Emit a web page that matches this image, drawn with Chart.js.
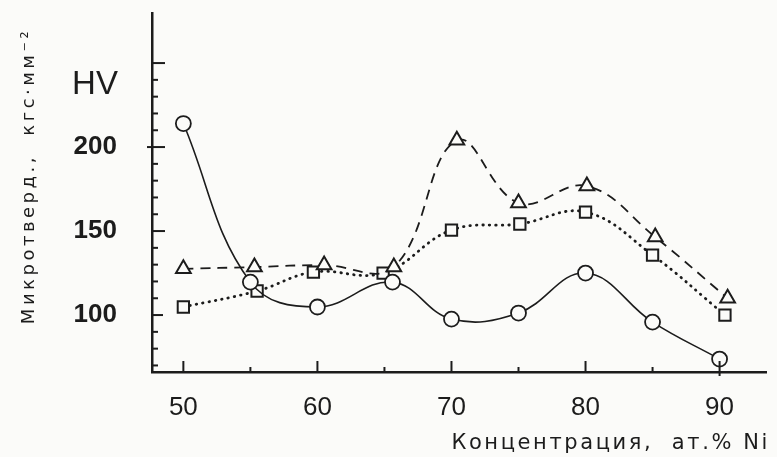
<!DOCTYPE html>
<html>
<head>
<meta charset="utf-8">
<script src="https://cdn.jsdelivr.net/npm/chart.js@4.4.0/dist/chart.umd.min.js"></script>
<style>
  html, body { margin: 0; padding: 0; background: #fbfbf9; }
  #wrap { width: 777px; height: 457px; }
</style>
</head>
<body>
<div id="wrap"><canvas id="c" width="777" height="457"></canvas></div>
<script>
// concentration, at.% Ni, and HV values
const circleX = [50, 55, 60, 65.6, 70, 75, 80, 85, 90];
const circleHV = [214, 119.6, 104.8, 119.6, 97.6, 101.2, 125, 95.8, 73.8];

const triangleX = [50, 55.3, 60.5, 65.7, 70.4, 75, 80.1, 85.2, 90.6];
const triangleHV = [127.5, 128.6, 129.8, 128.6, 204, 166.7, 176.8, 146.4, 110];

const squareX = [50, 55.5, 59.7, 64.9, 70, 75.1, 80, 85, 90.4];
const squareHV = [104.8, 114.3, 125.6, 125, 150.6, 154.2, 161.3, 135.7, 100];

const xTicks = [50, 60, 70, 80, 90];
const yTicks = [100, 150, 200];

const ink = "#1c1c1c";

function pts(xs, ys) {
  return xs.map((x, i) => ({ x, y: ys[i] }));
}

// tick marks drawn inward, like the original plot
const innerTicks = {
  id: "innerTicks",
  afterDraw(chart) {
    const { ctx, scales: { x, y }, chartArea } = chart;
    ctx.save();
    ctx.strokeStyle = ink;
    ctx.lineWidth = 2;
    const left = chartArea.left, bottom = chartArea.bottom;
    for (let v = 70; v <= 250; v += 10) {
      const py = y.getPixelForValue(v);
      let a = 0, b = 6;
      if (v === 250 || v === 150) b = 13;
      if (v === 200) { a = -5; b = 13; }
      if (v === 100) b = 11;
      ctx.beginPath();
      ctx.moveTo(left + a, py);
      ctx.lineTo(left + b, py);
      ctx.stroke();
    }
    for (let v = 50; v <= 90; v += 5) {
      const px = x.getPixelForValue(v);
      const len = v % 10 === 0 ? 11 : 5;
      ctx.beginPath();
      ctx.moveTo(px, bottom + (v === 90 ? 4 : 0));
      ctx.lineTo(px, bottom - len);
      ctx.stroke();
    }
    ctx.restore();
  }
};

const labels = {
  id: "labels",
  afterDraw(chart) {
    const ctx = chart.ctx;
    ctx.save();
    ctx.fillStyle = ink;
    ctx.font = "33px 'Liberation Sans'";
    ctx.textAlign = "center";
    ctx.textBaseline = "middle";
    ctx.fillText("HV", 95, 85);

    ctx.font = "21px 'DejaVu Sans'";
    ctx.letterSpacing = "2.6px";
    ctx.textAlign = "right";
    ctx.textBaseline = "alphabetic";
    ctx.fillText("Концентрация,  ат.% Ni", 770, 449);

    ctx.translate(34, 176);
    ctx.rotate(-Math.PI / 2);
    ctx.font = "18px 'DejaVu Sans'";
    ctx.letterSpacing = "3.5px";
    ctx.textAlign = "center";
    ctx.fillText("Микротверд.,  кгс·мм⁻²", 0, 0);
    ctx.restore();
  }
};

new Chart(document.getElementById("c"), {
  type: "line",
  data: {
    datasets: [
      {
        data: pts(circleX, circleHV),
        borderColor: ink,
        borderWidth: 1.6,
        tension: 0.4,
        pointStyle: "circle",
        pointRadius: 7.5,
        pointBorderWidth: 1.8,
        pointBackgroundColor: "#fbfbf9",
        pointBorderColor: ink
      },
      {
        data: pts(triangleX, triangleHV),
        borderColor: ink,
        borderWidth: 1.8,
        borderDash: [10, 7],
        tension: 0.4,
        pointStyle: "triangle",
        pointRadius: 8.5,
        pointBorderWidth: 2,
        pointBackgroundColor: "#fbfbf9",
        pointBorderColor: ink
      },
      {
        data: pts(squareX, squareHV),
        borderColor: ink,
        borderWidth: 2.8,
        borderDash: [0.5, 6],
        borderCapStyle: "round",
        tension: 0.4,
        pointStyle: "rect",
        pointRadius: 8,
        pointBorderWidth: 2,
        pointBackgroundColor: "#fbfbf9",
        pointBorderColor: ink
      }
    ]
  },
  options: {
    responsive: false,
    animation: false,
    layout: { padding: { top: 13, right: 0, left: 0, bottom: 0 } },
    plugins: { legend: { display: false }, tooltip: { enabled: false } },
    scales: {
      x: {
        type: "linear",
        min: 47.66,
        max: 93.5,
        afterFit(s) { s.height = 85; s.paddingLeft = 0; s.paddingRight = 0; },
        afterBuildTicks(s) { s.ticks = xTicks.map(v => ({ value: v })); },
        grid: { display: false, drawTicks: false },
        border: { display: true, color: ink, width: 2.5 },
        ticks: {
          color: ink,
          padding: 20,
          font: { family: "Liberation Sans", size: 26 }
        }
      },
      y: {
        type: "linear",
        min: 66.1,
        max: 279.8,
        afterFit(s) { s.width = 152; s.paddingTop = 0; s.paddingBottom = 0; },
        afterBuildTicks(s) { s.ticks = yTicks.map(v => ({ value: v })); },
        grid: { display: false, drawTicks: false },
        border: { display: true, color: ink, width: 2.5 },
        ticks: {
          color: ink,
          padding: 35,
          font: { family: "Liberation Sans", size: 26, weight: "bold" }
        }
      }
    }
  },
  plugins: [innerTicks, labels]
});
</script>
</body>
</html>
